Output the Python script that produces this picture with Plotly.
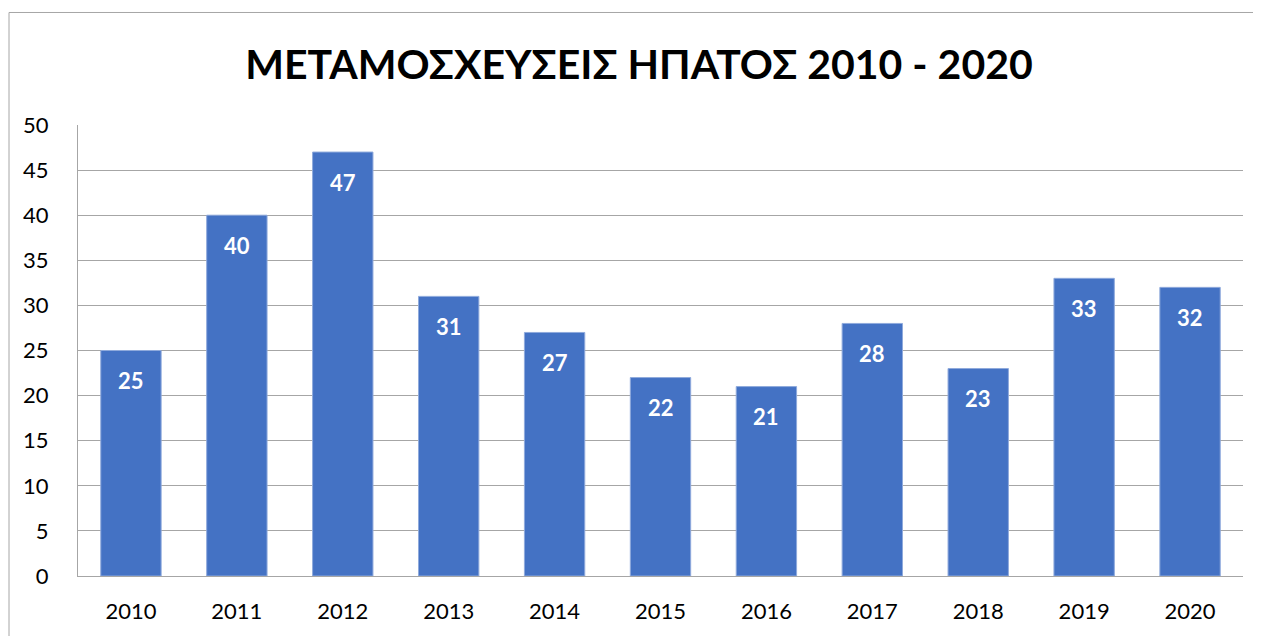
import plotly.graph_objects as go

years = ["2010", "2011", "2012", "2013", "2014", "2015", "2016", "2017", "2018", "2019", "2020"]
values = [25, 40, 47, 31, 27, 22, 21, 28, 23, 33, 32]
y_ticks = [0, 5, 10, 15, 20, 25, 30, 35, 40, 45, 50]
title_text = "ΜΕΤΑΜΟΣΧΕΥΣΕΙΣ ΗΠΑΤΟΣ 2010 - 2020"

FONT = "Lato, 'Open Sans', sans-serif"
OFF = 8  # page body margin
W, H = 1261 - OFF, 636 - OFF
ml, mt = 78 - OFF, 125 - OFF
pw, ph = 1165, 453
mr = W - ml - pw
mb = H - mt - ph

fig = go.Figure()
fig.add_trace(go.Bar(
    x=years, y=values,
    marker=dict(color="#4472C4", line=dict(color="#8FAADC", width=1)),
    width=0.57,
    hoverinfo="x+y",
))

annotations = []
for i, v in enumerate(values):
    annotations.append(dict(
        x=i, y=v, xref="x", yref="y", text=f"<b>{v}</b>", showarrow=False,
        yshift=-30, font=dict(family=FONT, size=22, color="white"),
    ))

def px_x(p):
    return (p - OFF - ml) / pw

def px_y(p):
    return (mt + ph - (p - OFF)) / ph

fig.update_layout(
    width=W, height=H,
    margin=dict(l=ml, r=mr, t=mt, b=mb, pad=0),
    paper_bgcolor="white", plot_bgcolor="white",
    title=dict(text=f"<b>{title_text}</b>", x=(639 - OFF) / W, xref="container", xanchor="center",
               y=1 - (65 - OFF) / H, yref="container", yanchor="middle",
               font=dict(family=FONT, size=41, color="black")),
    xaxis=dict(type="category", range=[-0.5, len(years) - 0.5], autorange=False,
               showgrid=False, showline=True, linecolor="#A6A6A6", linewidth=1,
               ticks="", tickfont=dict(family=FONT, size=22, color="black"), ticklabelstandoff=16),
    yaxis=dict(range=[0, 50], tickvals=y_ticks, showgrid=True, gridcolor="#A6A6A6", gridwidth=1,
               showline=True, linecolor="#A6A6A6", linewidth=1, zeroline=False, ticks="",
               tickfont=dict(family=FONT, size=22, color="black"), ticklabelstandoff=24),
    showlegend=False,
    annotations=annotations,
    shapes=[dict(type="rect", xref="paper", yref="paper",
                 x0=px_x(9), x1=px_x(1257), y0=px_y(700), y1=px_y(12),
                 line=dict(color="#A6A6A6", width=1), fillcolor="rgba(0,0,0,0)", layer="below")],
)

fig.write_html("out.html")
